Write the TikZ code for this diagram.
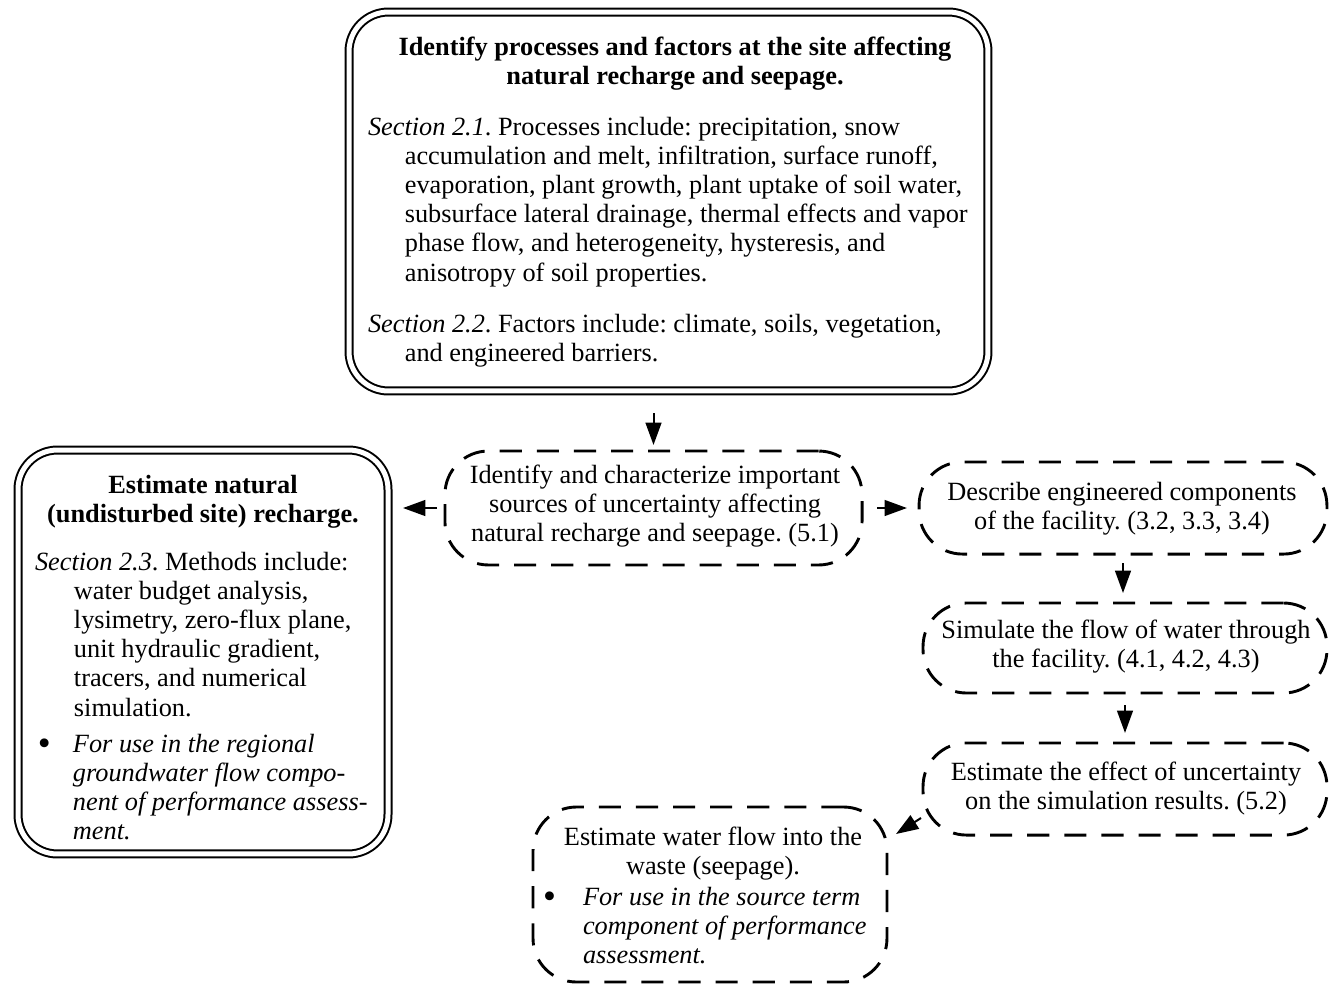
\documentclass[tikz,border=0pt]{standalone}
\usepackage{fontspec}
\setmainfont{Liberation Serif}
\usetikzlibrary{arrows.meta}
\newcommand{\bigbul}{{\fontsize{14}{11.1}\selectfont\raisebox{-1.3pt}{\textbullet}}}
\begin{document}
\frenchspacing
\begin{tikzpicture}[x=0.38pt,y=-0.38pt,
  dbox/.style={draw, double, line width=0.76pt, double distance=1.9pt, rounded corners=15pt, inner sep=0pt, outer sep=0pt},
  dsh/.style={draw, line width=1.1pt, dash pattern=on 8.4pt off 5.7pt, rounded corners=16.5pt, inner sep=0pt, outer sep=0pt},
  arr/.style={line width=0.76pt, -{Triangle[length=8.5pt,width=6pt]}},
  txt/.style={inner sep=0pt, outer sep=0pt, anchor=base west, font=\fontsize{10}{11.1}\selectfont\frenchspacing},
  ctxt/.style={inner sep=0pt, outer sep=0pt, anchor=base, font=\fontsize{10}{11.1}\selectfont\frenchspacing},
]
\useasboundingbox (0,0) rectangle (1330,984);

% boxes
\node[dbox, minimum width=242.8pt, minimum height=144pt] (topbox) at (668.5,201.5) {};
\node[dbox, minimum width=140.6pt, minimum height=153.5pt] (left) at (203,652) {};
\node[dsh, minimum width=158.5pt, minimum height=43.3pt] (mid) at (653.5,508) {};
\node[dsh, minimum width=155pt, minimum height=35pt] (b1) at (1123,508) {};
\node[dsh, minimum width=153.5pt, minimum height=34.2pt] (b2) at (1125,648) {};
\node[dsh, minimum width=153.5pt, minimum height=35pt] (b3) at (1125,789) {};
\node[dsh, minimum width=134.5pt, minimum height=66.5pt] (b4) at (710,894.5) {};

% texts
\node[ctxt] (toptitle) at (675,55) {\parbox[t]{240pt}{\centering\bfseries Identify processes and factors at the site affecting\\natural recharge and seepage.}};
\node[txt] (toppa) at (368,135) {\parbox[t]{240pt}{\hangindent=14pt\hangafter=1 \textit{Section 2.1}. Processes include: precipitation, snow\\accumulation and melt, infiltration, surface runoff,\\evaporation, plant growth, plant uptake of soil water,\\subsurface lateral drainage, thermal effects and vapor\\phase flow, and heterogeneity, hysteresis, and\\anisotropy of soil properties.}};
\node[txt] (toppb) at (368,332) {\parbox[t]{240pt}{\hangindent=14pt\hangafter=1 \textit{Section 2.2}. Factors include: climate, soils, vegetation,\\and engineered barriers.}};

\node[ctxt] (lefttitle) at (203,493) {\parbox[t]{140pt}{\centering\bfseries Estimate natural\\(undisturbed site) recharge.}};
\node[txt] (leftpa) at (35,570) {\parbox[t]{135pt}{\hangindent=14.8pt\hangafter=1 \textit{Section 2.3}. Methods include:\\water budget analysis,\\lysimetry, zero-flux plane,\\unit hydraulic gradient,\\tracers, and numerical\\simulation.}};
\node[txt] (leftpb) at (38,752) {\parbox[t]{135pt}{\hangindent=13.3pt\hangafter=1 \makebox[13.3pt][l]{\bigbul}\itshape For use in the regional\\groundwater flow compo-\\nent of performance assess-\\ment.}};

\node[ctxt] (midtext) at (655,483) {\parbox[t]{170pt}{\centering Identify and characterize important\\sources of uncertainty affecting\\natural recharge and seepage. (5.1)}};
\node[ctxt] (b1text) at (1122,500) {\parbox[t]{170pt}{\centering Describe engineered components\\of the facility. (3.2, 3.3, 3.4)}};
\node[ctxt] (b2text) at (1126,638) {\parbox[t]{170pt}{\centering Simulate the flow of water through\\the facility. (4.1, 4.2, 4.3)}};
\node[ctxt] (b3text) at (1126,780) {\parbox[t]{170pt}{\centering Estimate the effect of uncertainty\\on the simulation results. (5.2)}};
\node[ctxt] (b4text) at (713,845) {\parbox[t]{140pt}{\centering Estimate water flow into the\\waste (seepage).}};
\node[txt] (b4bullet) at (543,905) {\parbox[t]{130pt}{\hangindent=15.2pt\hangafter=1 \makebox[15.2pt][l]{\bigbul}\itshape For use in the source term\\component of performance\\assessment.}};

% connectors
\draw[arr, shorten <=8.4pt, shorten >=2.3pt] (topbox.south -| mid.north) -- (mid.north);
\draw[arr, shorten <=3pt, shorten >=5.7pt] (mid.west) -- (mid.west -| left.east);
\draw[arr, shorten <=5.7pt, shorten >=4.6pt] (mid.east) -- (mid.east -| b1.west);
\draw[arr, shorten <=3.4pt, shorten >=3.8pt] (b1.south) -- (b1.south |- b2.north);
\draw[arr, shorten <=4.6pt, shorten >=3.8pt] (b2.south) -- (b2.south |- b3.north);
\coordinate (a6s) at (921,818);
\coordinate (a6e) at (896,834);
\draw[arr] (a6s) -- (a6e);
\end{tikzpicture}
\end{document}
